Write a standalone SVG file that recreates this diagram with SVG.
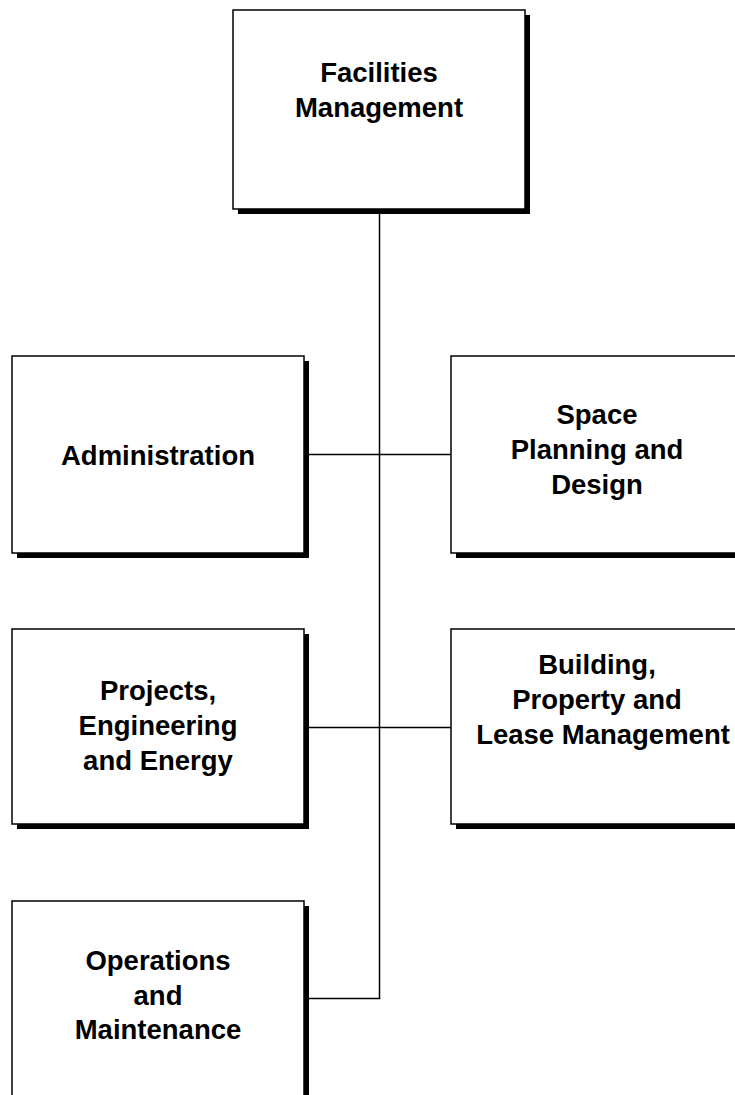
<svg xmlns="http://www.w3.org/2000/svg" width="735" height="1095" viewBox="0 0 735 1095">
  <style>
    .shadow { fill: #000; }
    .box { fill: #fff; stroke: #000; stroke-width: 1.5; }
    .label { font-family: "Liberation Sans", Arial, sans-serif; font-weight: bold; font-size: 27.5px; fill: #000; text-anchor: middle; }
    .conn { stroke: #000; stroke-width: 1.5; fill: none; }
  </style>
  <rect width="735" height="1095" fill="#fff"/>
  <g id="connectors">
    <line class="conn" x1="379.5" y1="209" x2="379.5" y2="998.5"/>
    <line class="conn" x1="304" y1="454.5" x2="451" y2="454.5"/>
    <line class="conn" x1="304" y1="727.5" x2="451" y2="727.5"/>
    <line class="conn" x1="304" y1="998.5" x2="380.25" y2="998.5"/>
  </g>
  <g id="facilities-management">
    <rect class="shadow" x="238" y="15" width="292" height="199"/>
    <rect class="box" x="233" y="10" width="292" height="199"/>
    <text class="label" x="379" y="82">Facilities</text>
    <text class="label" x="379" y="117">Management</text>
  </g>
  <g id="administration">
    <rect class="shadow" x="17" y="361" width="292" height="197"/>
    <rect class="box" x="12" y="356" width="292" height="197"/>
    <text class="label" x="158" y="465">Administration</text>
  </g>
  <g id="space-planning">
    <rect class="shadow" x="456" y="361" width="292" height="197"/>
    <rect class="box" x="451" y="356" width="292" height="197"/>
    <text class="label" x="597" y="424">Space</text>
    <text class="label" x="597" y="459">Planning and</text>
    <text class="label" x="597" y="494">Design</text>
  </g>
  <g id="projects-engineering">
    <rect class="shadow" x="17" y="634" width="292" height="195"/>
    <rect class="box" x="12" y="629" width="292" height="195"/>
    <text class="label" x="158" y="700">Projects,</text>
    <text class="label" x="158" y="735">Engineering</text>
    <text class="label" x="158" y="770">and Energy</text>
  </g>
  <g id="building-property">
    <rect class="shadow" x="456" y="634" width="292" height="195"/>
    <rect class="box" x="451" y="629" width="292" height="195"/>
    <text class="label" x="597" y="674">Building,</text>
    <text class="label" x="597" y="709">Property and</text>
    <text class="label" x="603" y="744">Lease Management</text>
  </g>
  <g id="operations-maintenance">
    <rect class="shadow" x="17" y="906" width="292" height="197"/>
    <rect class="box" x="12" y="901" width="292" height="197"/>
    <text class="label" x="158" y="970">Operations</text>
    <text class="label" x="158" y="1005">and</text>
    <text class="label" x="158" y="1039">Maintenance</text>
  </g>
</svg>
